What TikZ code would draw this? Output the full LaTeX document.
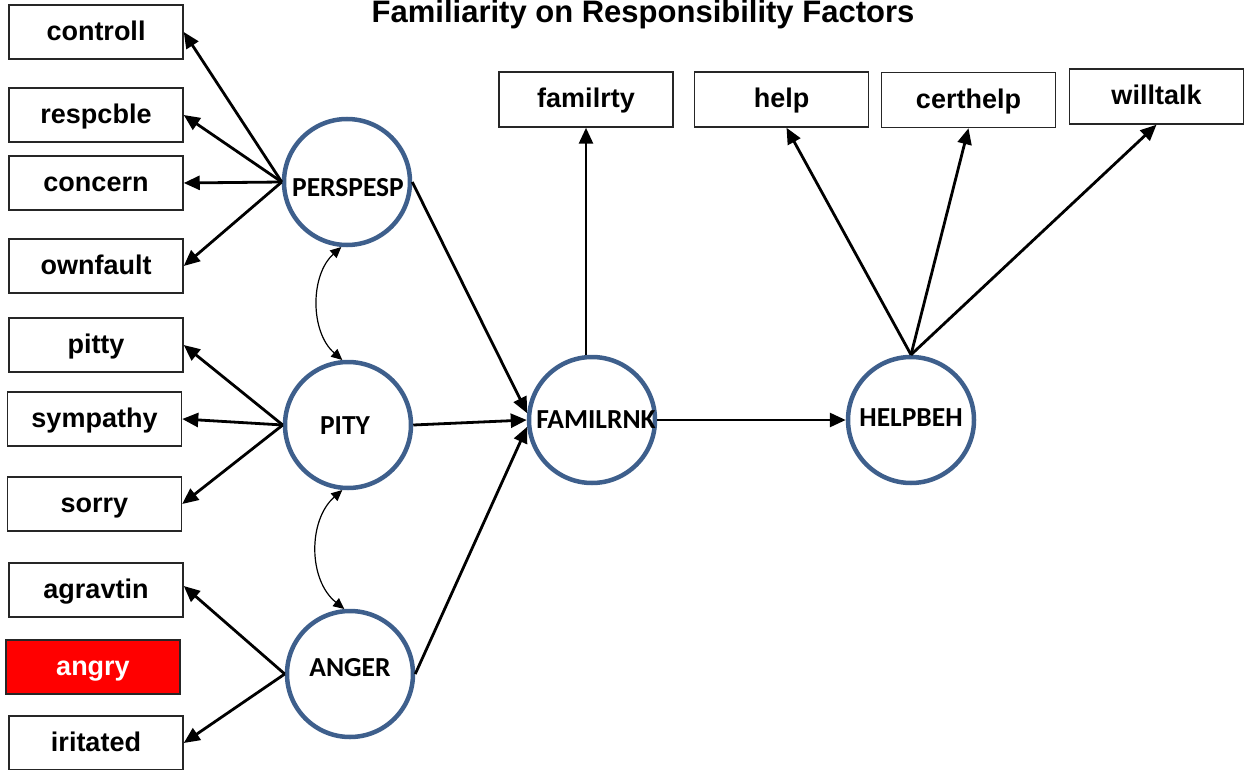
\documentclass[tikz,border=0pt]{standalone}
\usepackage{fontspec}
\setmainfont{Liberation Sans}
\newfontfamily\calibrifont{Carlito}
\usetikzlibrary{arrows.meta,calc}
\definecolor{ringblue}{RGB}{62,95,140}
\definecolor{boxred}{RGB}{255,0,0}

\begin{document}
\begin{tikzpicture}[x=1pt,y=-1pt,
  obs/.style={draw=black!85, line width=1.5pt, minimum width=174pt, minimum height=54pt,
    inner sep=0pt, text height=21pt, text depth=4pt,
    font=\fontsize{27}{30}\selectfont\bfseries},
  lat/.style={circle, draw=ringblue, line width=4.5pt, minimum size=126pt, inner sep=0pt},
  latname/.style={inner sep=0pt, font=\calibrifont\fontsize{27.5}{30}\selectfont\bfseries},
  reg/.style={line width=2.8pt, -{Triangle[length=16pt,width=14pt]}},
  cov/.style={line width=1.2pt, {Triangle[length=11pt,width=10pt]}-{Triangle[length=11pt,width=10pt]}}]

\useasboundingbox (0,0) rectangle (1245,770);
\clip (0,0) rectangle (1245,770);

% title
\node[font=\fontsize{31}{36}\selectfont\bfseries, anchor=base, inner sep=0pt] (title) at (643,23)
  {Familiarity on Responsibility Factors};

% indicator boxes, left column
\node[obs] (controll) at (96,32)  {controll};
\node[obs] (respcble) at (96,115) {respcble};
\node[obs] (concern)  at (96,183) {concern};
\node[obs] (ownfault) at (96,266) {ownfault};
\node[obs] (pitty)    at (96,345) {pitty};
\node[obs] (sympathy) at (94.5,419) {sympathy};
\node[obs] (sorry)    at (94.5,504) {sorry};
\node[obs] (agravtin) at (96,590) {agravtin};
\node[obs, fill=boxred, text=white] (angry) at (93,667) {angry};
\node[obs] (iritated) at (96,743) {iritated};

% indicator boxes, top row
\node[obs, minimum height=55pt] (familrty) at (586,99.5)   {familrty};
\node[obs, minimum height=55pt] (help)     at (781.5,99.5) {help};
\node[obs, minimum height=55pt] (certhelp) at (968.5,100)  {certhelp};
\node[obs, minimum height=55pt] (willtalk) at (1156.5,96.5) {willtalk};

% latent factors and their names
\node[lat] (pers)  at (347,182) {};
\node[lat] (pity)  at (348,425) {};
\node[lat] (anger) at (350,674) {};
\node[lat] (famil) at (592,420) {};
\node[lat] (helpb) at (911,420) {};
\node[latname] (persname)  at (348,188) {PERSPESP};
\node[latname] (pityname)  at (345,426) {PITY};
\node[latname] (angername) at (350,668) {ANGER};
\node[latname] (familname) at (596,420) {FAMILRNK};
\node[latname] (helpbname) at (911,418) {HELPBEH};

% loadings
\draw[reg] (pers.west) -- (controll.east);
\draw[reg] (pers.west) -- (respcble.east);
\draw[reg] (pers.west) -- (concern.east);
\draw[reg] (pers.west) -- (ownfault.east);
\draw[reg] (pity.west) -- (pitty.east);
\draw[reg] (pity.west) -- (sympathy.east);
\draw[reg] (pity.west) -- (sorry.east);
\draw[reg] (anger.west) -- ($(agravtin.east)+(0,-4)$);
\draw[reg] (anger.west) -- (iritated.east);

% covariances
\draw[cov] (pers.265) .. controls (310,275) and (310,332) .. (pity.95);
\draw[cov] (pity.265) .. controls (308,520) and (308,580) .. (anger.95);

% structural paths
\draw[reg] (pers.east) -- (famil.174);
\draw[reg] (pity.east) -- (famil.west);
\draw[reg] (anger.east) -- (famil.186);
\draw[reg] (familrty.south |- famil.north) -- (familrty.south);
\draw[reg] (famil.east) -- (helpb.west);
\draw[reg] (helpb.north) -- ($(help.south)+(5,0)$);
\draw[reg] (helpb.north) -- (certhelp.south);
\draw[reg] (helpb.north) -- (willtalk.south);
\end{tikzpicture}
\end{document}
